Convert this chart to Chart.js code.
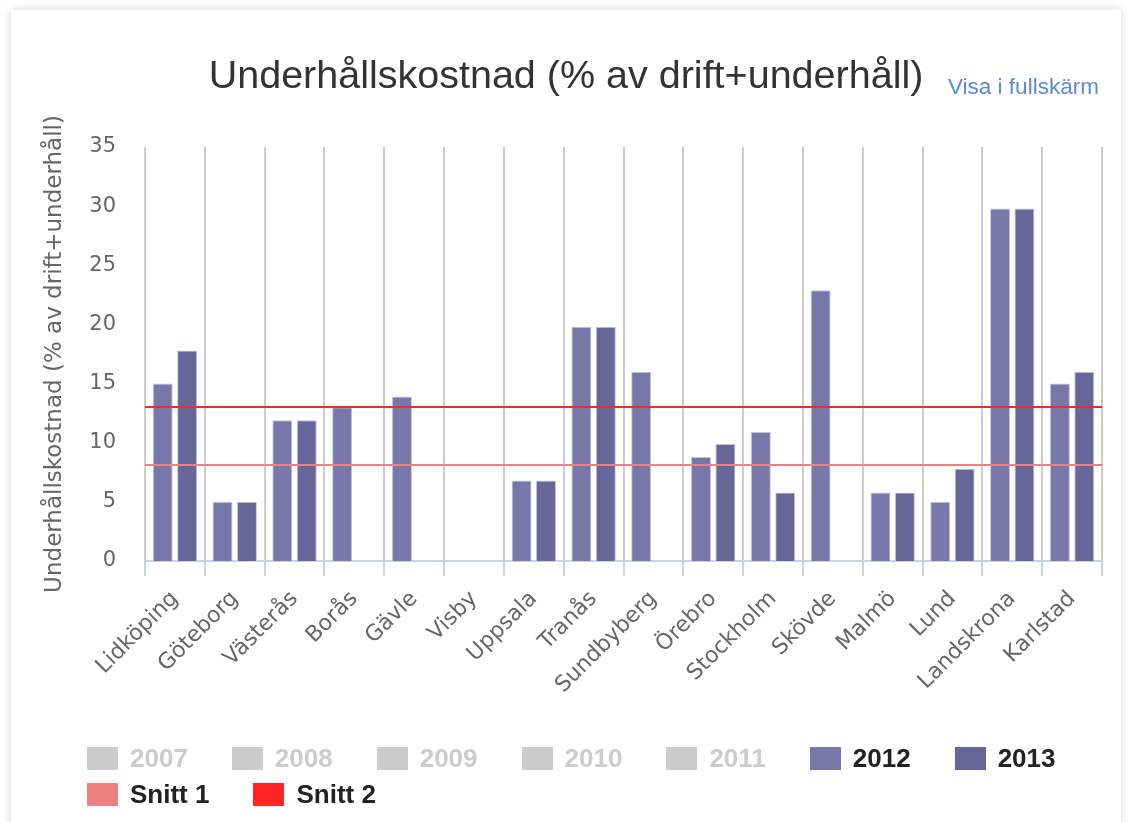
<!DOCTYPE html>
<html><head><meta charset="utf-8">
<script src="https://cdn.jsdelivr.net/npm/chart.js@4"></script>
<style>
html,body{margin:0;padding:0;background:#fff;width:1128px;height:822px;overflow:hidden;}
#card{position:absolute;left:11px;top:10px;width:1110px;height:830px;background:#fff;box-shadow:0 0 9px rgba(0,0,0,0.16);}
#chart{position:absolute;left:0;top:0;}
#full{position:absolute;left:937px;top:66px;font:22.5px/22px "Liberation Sans",Arial,sans-serif;color:#5b8bd0;text-decoration:none;white-space:nowrap;}
#legend{position:absolute;left:76px;top:737px;width:1045px;display:flex;flex-wrap:wrap;row-gap:13px;}
.li{display:flex;align-items:center;margin-right:44px;height:23px;}
.lb{width:31px;height:23px;margin-right:12px;}
.lt{font:bold 26px/23px "Liberation Sans",Arial,sans-serif;white-space:nowrap;}
</style></head>
<body>
<div id="card">
<canvas id="chart" width="1110" height="812"></canvas>
<a id="full" href="#">Visa i fullskärm</a>
<div id="legend"></div>
</div>
<script>
const chartTitle = 'Underhållskostnad (% av drift+underhåll)';
const yAxisTitle = 'Underhållskostnad (% av drift+underhåll)';
const categories = ['Lidköping','Göteborg','Västerås','Borås','Gävle','Visby','Uppsala','Tranås','Sundbyberg','Örebro','Stockholm','Skövde','Malmö','Lund','Landskrona','Karlstad'];
const hiddenYears = ['2007','2008','2009','2010','2011'];
const values2012 = [15, 5, 11.9, 13, 13.9, null, 6.8, 19.8, 16, 8.8, 10.9, 22.9, 5.8, 5, 29.8, 15];
const values2013 = [17.8, 5, 11.9, null, null, null, 6.8, 19.8, null, 9.9, 5.8, null, 5.8, 7.8, 29.8, 16];
const snittLabels = ['Snitt 1', 'Snitt 2'];
const snittValues = [8.1, 13.0];
const yMin = 0, yMax = 35, yStep = 5;

const GREY = '#cccccc';
const snittColors = ['#f08080', '#ff2424'];

const datasets = [
  {label:'2012', data:values2012, backgroundColor:'#7777aa', borderColor:'#c4c4dc', borderWidth:1},
  {label:'2013', data:values2013, backgroundColor:'#666699', borderColor:'#c4c4dc', borderWidth:1}
];

// horizontal average lines, positioned through the chart's y scale
const plotLines = {
  id:'plotLines',
  afterDatasetsDraw(chart){
    const {ctx, chartArea:{left, right}, scales:{y}} = chart;
    snittValues.forEach((v, i) => {
      const py = Math.round(y.getPixelForValue(v));
      ctx.save();
      ctx.strokeStyle = snittColors[i];
      ctx.lineWidth = 2;
      ctx.beginPath(); ctx.moveTo(left, py); ctx.lineTo(right, py); ctx.stroke();
      ctx.restore();
    });
  }
};

function addLegendItem(box, label, color, textColor){
  const item = document.createElement('div'); item.className='li';
  const sw = document.createElement('div'); sw.className='lb'; sw.style.background = color;
  const tx = document.createElement('div'); tx.className='lt'; tx.textContent = label; tx.style.color = textColor;
  item.appendChild(sw); item.appendChild(tx); box.appendChild(item);
}
const htmlLegend = {
  id:'htmlLegend',
  afterUpdate(chart){
    const box = document.getElementById('legend');
    box.innerHTML = '';
    hiddenYears.forEach(y => addLegendItem(box, y, GREY, GREY));
    chart.data.datasets.forEach(ds => addLegendItem(box, ds.label, ds.backgroundColor, '#222222'));
    snittLabels.forEach((l, i) => addLegendItem(box, l, snittColors[i], '#222222'));
  }
};

new Chart(document.getElementById('chart'), {
  type:'bar',
  data:{labels:categories, datasets},
  plugins:[htmlLegend, plotLines],
  options:{
    responsive:false, animation:false, devicePixelRatio:1,
    layout:{padding:{left:19, right:19, top:0, bottom:111}},
    plugins:{
      legend:{display:false},
      tooltip:{enabled:false},
      title:{display:true, text:chartTitle, color:'#333333', font:{family:'"Liberation Sans", Arial, sans-serif', size:39.5, weight:'normal', lineHeight:1.2}, padding:{top:43, bottom:46.6}}
    },
    datasets:{bar:{categoryPercentage:0.816, barPercentage:0.82}},
    scales:{
      x:{
        type:'category',
        grid:{display:true, offset:true, color:'#cccccc', lineWidth:2, drawTicks:true, tickLength:15, tickColor:'#c6d4e6', tickWidth:2},
        border:{display:true, color:'#c6d4e6', width:2},
        ticks:{autoSkip:false, maxRotation:45, minRotation:45, padding:10, color:'#666666', font:{family:'"DejaVu Sans", Verdana, sans-serif', size:22}},
        afterFit(s){ s.height = 150; }
      },
      y:{
        min:yMin, max:yMax,
        grid:{display:false, drawTicks:false}, border:{display:false},
        ticks:{stepSize:yStep, padding:29, color:'#666666', font:{family:'"DejaVu Sans", Verdana, sans-serif', size:21}},
        title:{display:true, text:yAxisTitle, color:'#666666', font:{family:'"DejaVu Sans", Verdana, sans-serif', size:23, lineHeight:1.2}, padding:{top:11, bottom:0}},
        afterFit(s){ s.width = 115; }
      }
    }
  }
});
</script>
</body></html>
